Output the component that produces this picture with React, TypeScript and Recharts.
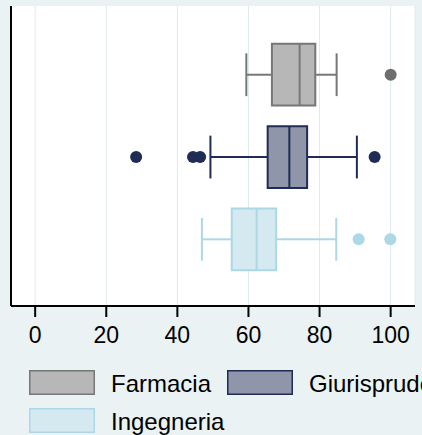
import { ScatterChart, Scatter, XAxis, YAxis, CartesianGrid, ReferenceArea, ReferenceLine } from 'recharts';

// one row per faculty, top to bottom
const groups = ['Farmacia', 'Giurisprudenza', 'Ingegneria'];
const rows = [3, 2, 1];
const whiskerLow = [59.4, 49.3, 46.9];
const q1 = [66.6, 65.4, 55.3];
const median = [74.4, 71.5, 62.3];
const q3 = [78.8, 76.5, 67.8];
const whiskerHigh = [84.8, 90.5, 84.7];
const outliers = [[100], [28.4, 44.4, 46.4, 95.5], [91.0, 99.9]];
const xTicks = [0, 20, 40, 60, 80, 100];

const fills = ['#b7b7b7', '#8f96a9', '#d4e9f0'];
const strokes = ['#777777', '#1f2c55', '#acd8e5'];
const dotColors = ['#6e6e6e', '#1f2c55', '#add8e6'];

const BOX_HALF = 0.375;
const CAP_HALF = 0.26;
const FONT = '"Liberation Sans", Arial, sans-serif';

function Legend() {
  const items = [
    { x: 29, y: 370 },
    { x: 227, y: 370 },
    { x: 29, y: 408 },
  ];
  return (
    <svg width={422} height={435} style={{ position: 'absolute', left: 0, top: 0, pointerEvents: 'none' }}>
      {groups.map((g, i) => (
        <g key={g}>
          <rect x={items[i].x + 0.75} y={items[i].y + 0.75} width={64.5} height={23.5} fill={fills[i]} stroke={strokes[i]} strokeWidth={1.5} />
          <text x={items[i].x + 82} y={items[i].y + 21.5} fontSize={24} fontFamily={FONT} fill="#000">
            {g}
          </text>
        </g>
      ))}
    </svg>
  );
}

export default function App() {
  return (
    <div style={{ position: 'absolute', left: 0, top: 0, width: 422, height: 435, background: '#eaf2f3', overflow: 'hidden' }}>
      <ScatterChart width={422} height={435} margin={{ top: 6, right: 7, left: 0, bottom: 89 }}>
        <CartesianGrid horizontal={false} stroke="#e0eaed" fill="#ffffff" />
        <XAxis
          type="number"
          dataKey="x"
          domain={[-6.8, 106.85]}
          allowDataOverflow
          ticks={xTicks}
          height={40}
          tickSize={11}
          tickMargin={10}
          axisLine={{ stroke: '#000', strokeWidth: 2 }}
          tickLine={{ stroke: '#000', strokeWidth: 2 }}
          tick={{ fill: '#000', fontSize: 23, fontFamily: FONT }}
        />
        <YAxis
          type="number"
          dataKey="y"
          domain={[0.19, 3.835]}
          allowDataOverflow
          width={11}
          tick={false}
          tickLine={false}
          axisLine={{ stroke: '#000', strokeWidth: 2 }}
        />
        {groups.map((g, i) => {
          const c = rows[i];
          return [
            <ReferenceLine key={`${g}-wl`} segment={[{ x: whiskerLow[i], y: c }, { x: q1[i], y: c }]} stroke={strokes[i]} strokeWidth={2} />,
            <ReferenceLine key={`${g}-wh`} segment={[{ x: q3[i], y: c }, { x: whiskerHigh[i], y: c }]} stroke={strokes[i]} strokeWidth={2} />,
            <ReferenceLine key={`${g}-cl`} segment={[{ x: whiskerLow[i], y: c - CAP_HALF }, { x: whiskerLow[i], y: c + CAP_HALF }]} stroke={strokes[i]} strokeWidth={2} />,
            <ReferenceLine key={`${g}-ch`} segment={[{ x: whiskerHigh[i], y: c - CAP_HALF }, { x: whiskerHigh[i], y: c + CAP_HALF }]} stroke={strokes[i]} strokeWidth={2} />,
            <ReferenceArea key={`${g}-box`} x1={q1[i]} x2={q3[i]} y1={c - BOX_HALF} y2={c + BOX_HALF} fill={fills[i]} fillOpacity={1} stroke={strokes[i]} strokeWidth={2} />,
            <ReferenceLine key={`${g}-med`} segment={[{ x: median[i], y: c - BOX_HALF }, { x: median[i], y: c + BOX_HALF }]} stroke={strokes[i]} strokeWidth={2} />,
          ];
        })}
        {groups.map((g, i) => (
          <Scatter
            key={`${g}-out`}
            name={g}
            data={outliers[i].map((v) => ({ x: v, y: rows[i] }))}
            fill={dotColors[i]}
            isAnimationActive={false}
            shape={(p: any) => <circle cx={p.cx} cy={p.cy} r={6} fill={dotColors[i]} />}
          />
        ))}
      </ScatterChart>
      <Legend />
    </div>
  );
}
